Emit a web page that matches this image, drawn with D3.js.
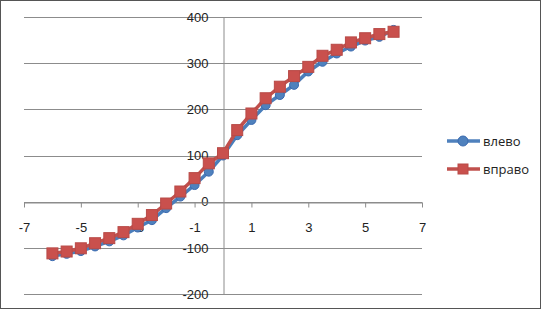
<!DOCTYPE html>
<html>
<head>
<meta charset="utf-8">
<script src="https://cdn.jsdelivr.net/npm/d3@7"></script>
<style>
  body { margin: 0; background: #fff; }
  svg { display: block; font-family: "Open Sans", "Liberation Sans", sans-serif; }
</style>
</head>
<body>
<div id="chart"></div>
<script>
// x values and the two series
const xValues = [-6, -5.5, -5, -4.5, -4, -3.5, -3, -2.5, -2, -1.5, -1, -0.5, 0,
                 0.5, 1, 1.5, 2, 2.5, 3, 3.5, 4, 4.5, 5, 5.5, 6];
const left = [-118, -113, -107, -97, -86, -73, -56, -40, -14, 11, 36, 65, 100,
              144, 177, 209, 231, 253, 282, 303, 321, 336, 349, 357, 372];
const right = [-112, -108, -101, -90, -79, -66, -48, -29, -4, 22, 51, 83, 105,
               155, 191, 224, 249, 272, 292, 316, 329, 345, 354, 363, 368];
const seriesNames = ['влево', 'вправо'];
const xTicks = [-7, -5, -3, -1, 1, 3, 5, 7];
const yTicks = [-200, -100, 0, 100, 200, 300, 400];

const W = 542, H = 310;
const svg = d3.select('#chart').append('svg')
  .attr('width', W)
  .attr('height', H);

// outer chart border
svg.append('rect')
  .attr('x', 0.5).attr('y', 0.5)
  .attr('width', W - 2).attr('height', H - 2)
  .attr('fill', '#fff')
  .attr('stroke', '#555');

const x = d3.scaleLinear().domain([-7, 7]).range([24, 422]);
const y = d3.scaleLinear().domain([-200, 400]).range([294, 17]);

const grid = '#8c8c8c';
const fmt = d => String(d); // plain hyphen minus, like the original

// horizontal gridlines
svg.append('g')
  .selectAll('line')
  .data(yTicks)
  .enter()
  .append('line')
  .attr('x1', x(-7)).attr('x2', x(7))
  .attr('y1', d => Math.round(y(d)) + 0.5)
  .attr('y2', d => Math.round(y(d)) + 0.5)
  .attr('stroke', grid);

// vertical axis at x = 0
const yAxis = svg.append('g')
  .attr('transform', 'translate(' + (Math.round(x(0)) + 0.5) + ',0)')
  .call(d3.axisLeft(y).tickValues(yTicks).tickFormat(fmt).tickSize(0).tickPadding(15));
yAxis.select('.domain').attr('stroke', grid);
yAxis.selectAll('text')
  .style('font-size', '13px')
  .attr('fill', '#222');

// horizontal axis at y = 0
const xAxis = svg.append('g')
  .attr('transform', 'translate(0,' + (Math.round(y(0)) + 0.5) + ')')
  .call(d3.axisBottom(x).tickValues(xTicks).tickFormat(fmt).tickSizeInner(5).tickSizeOuter(0).tickPadding(15));
xAxis.select('.domain').attr('stroke', grid);
xAxis.selectAll('line').attr('stroke', grid);
xAxis.selectAll('text')
  .style('font-size', '13px')
  .attr('fill', '#222');

const line = d3.line()
  .x(d => x(d[0]))
  .y(d => y(d[1]));

const blueData = xValues.map((v, i) => [v, left[i]]);
const redData = xValues.map((v, i) => [v, right[i]]);

// blue series: line + circles
svg.append('path')
  .datum(blueData)
  .attr('d', line)
  .attr('fill', 'none')
  .attr('stroke', '#4a7ebb')
  .attr('stroke-width', 3.5);
svg.append('g')
  .selectAll('circle')
  .data(blueData)
  .enter()
  .append('circle')
  .attr('cx', d => x(d[0]))
  .attr('cy', d => y(d[1]))
  .attr('r', 4.5)
  .attr('fill', '#4f81bd')
  .attr('stroke', '#3a6ab0')
  .attr('stroke-width', 1);

// red series: line + squares
svg.append('path')
  .datum(redData)
  .attr('d', line)
  .attr('fill', 'none')
  .attr('stroke', '#c0504d')
  .attr('stroke-width', 3.5);
svg.append('g')
  .selectAll('rect')
  .data(redData)
  .enter()
  .append('rect')
  .attr('x', d => x(d[0]) - 5.5)
  .attr('y', d => y(d[1]) - 5.5)
  .attr('width', 11)
  .attr('height', 11)
  .attr('fill', '#c9504d')
  .attr('stroke', '#b84a47')
  .attr('stroke-width', 1);

// legend
const legend = svg.append('g');
const legendY = [141, 169];
const colors = ['#4f81bd', '#c0504d'];
seriesNames.forEach((name, i) => {
  const g = legend.append('g').attr('transform', 'translate(0,' + legendY[i] + ')');
  g.append('line')
    .attr('x1', 447).attr('x2', 480)
    .attr('y1', 0).attr('y2', 0)
    .attr('stroke', colors[i])
    .attr('stroke-width', 3.5);
  if (i === 0) {
    g.append('circle').attr('cx', 463).attr('cy', 0).attr('r', 5)
      .attr('fill', '#4f81bd').attr('stroke', '#3a6ab0');
  } else {
    g.append('rect').attr('x', 458).attr('y', -5).attr('width', 10).attr('height', 10)
      .attr('fill', '#c9504d').attr('stroke', '#b84a47');
  }
  g.append('text')
    .attr('x', 483).attr('y', 0)
    .attr('dy', '0.35em')
    .style('font-size', '13px')
    .attr('fill', '#222')
    .text(name);
});
</script>
</body>
</html>
